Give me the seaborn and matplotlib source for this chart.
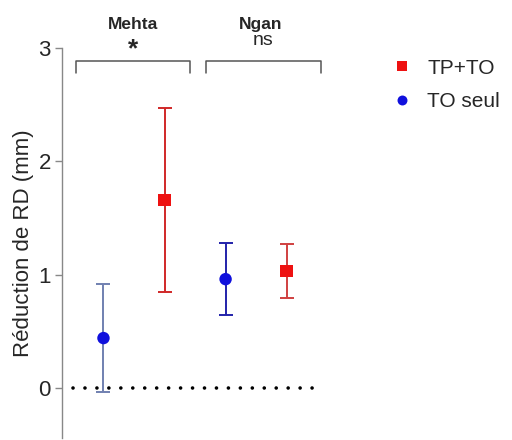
import pandas as pd
import matplotlib.pyplot as plt
import seaborn as sns

# données
etudes = ["Mehta", "Mehta", "Ngan", "Ngan"]
groupes = ["TO seul", "TP+TO", "TO seul", "TP+TO"]
positions = [0, 1, 2, 3]
moyennes = [0.44, 1.66, 0.96, 1.03]
bas = [-0.04, 0.85, 0.64, 0.79]
haut = [0.92, 2.47, 1.28, 1.27]
noms = ["Mehta", "Ngan"]
signif = ["*", "ns"]
crochets = [(-0.45, 1.42), (1.68, 3.57)]
centres = [0.48, 2.57]

couleurs = {"TP+TO": "#ee1111", "TO seul": "#1010dd"}
couleurs_barres = ["#7080b0", "#d02828", "#2222aa", "#d04040"]


def main():
    df = pd.DataFrame({"etude": etudes, "groupe": groupes, "x": positions,
                       "moy": moyennes, "bas": bas, "haut": haut})

    sns.set_theme(style="white")
    plt.rcParams["font.family"] = ["Liberation Sans", "DejaVu Sans"]

    fig = plt.figure(figsize=(5.12, 4.4), dpi=100)
    ax = fig.add_axes([0.121, 0.005, 0.508, 0.886])

    # barres d'erreur
    for i, r in df.iterrows():
        ax.errorbar(r["x"], r["moy"], yerr=[[r["moy"] - r["bas"]], [r["haut"] - r["moy"]]],
                    fmt="none", ecolor=couleurs_barres[i], elinewidth=1.4,
                    capsize=5, capthick=1.4, zorder=2)

    sns.scatterplot(data=df, x="x", y="moy", hue="groupe", style="groupe",
                    hue_order=["TP+TO", "TO seul"], style_order=["TP+TO", "TO seul"],
                    palette=couleurs, markers={"TP+TO": "s", "TO seul": "o"},
                    s=80, linewidth=0, ax=ax, zorder=3)

    # ligne pointillée à zéro
    ax.hlines(0, -0.5, 3.5, colors="black", linewidth=2.6,
              linestyles=[(0, (0.01, 3.3))], capstyle="round", zorder=1)

    # crochets + étiquettes
    for nom, sig, (x0, x1), xm in zip(noms, signif, crochets, centres):
        ax.plot([x0, x0, x1, x1], [2.78, 2.885, 2.885, 2.78], color="#555555",
                linewidth=1.1, clip_on=False)
        ax.text(xm, 3.21, nom, ha="center", va="center", fontsize=12.5,
                fontweight="bold", clip_on=False)
        if sig == "*":
            ax.text(xm, 2.99, sig, ha="center", va="center", fontsize=19,
                    fontweight="bold", clip_on=False)
        else:
            ax.text(xm + 0.05, 3.07, sig, ha="center", va="center", fontsize=14,
                    clip_on=False)

    ax.set_xlim(-0.68, 3.58)
    ax.set_ylim(-0.44, 3)
    ax.set_yticks([0, 1, 2, 3])
    ax.set_xticks([])
    ax.set_xlabel("")
    ax.set_ylabel("Réduction de RD (mm)", fontsize=16, labelpad=3)
    ax.tick_params(axis="y", left=True, length=5, width=1, color="#888888",
                   labelsize=16, pad=3)
    for s in ["top", "right", "bottom"]:
        ax.spines[s].set_visible(False)
    ax.spines["left"].set_color("#888888")
    ax.spines["left"].set_linewidth(1)

    leg = ax.legend(loc="upper left", bbox_to_anchor=(0.757, 0.867),
                    bbox_transform=fig.transFigure, frameon=False, fontsize=15,
                    handletextpad=0.5, handlelength=1.4, labelspacing=0.7,
                    markerscale=0.8, borderaxespad=0, borderpad=0)
    leg.set_title(None)

    fig.savefig("out.png", dpi=100)


if __name__ == "__main__":
    main()
